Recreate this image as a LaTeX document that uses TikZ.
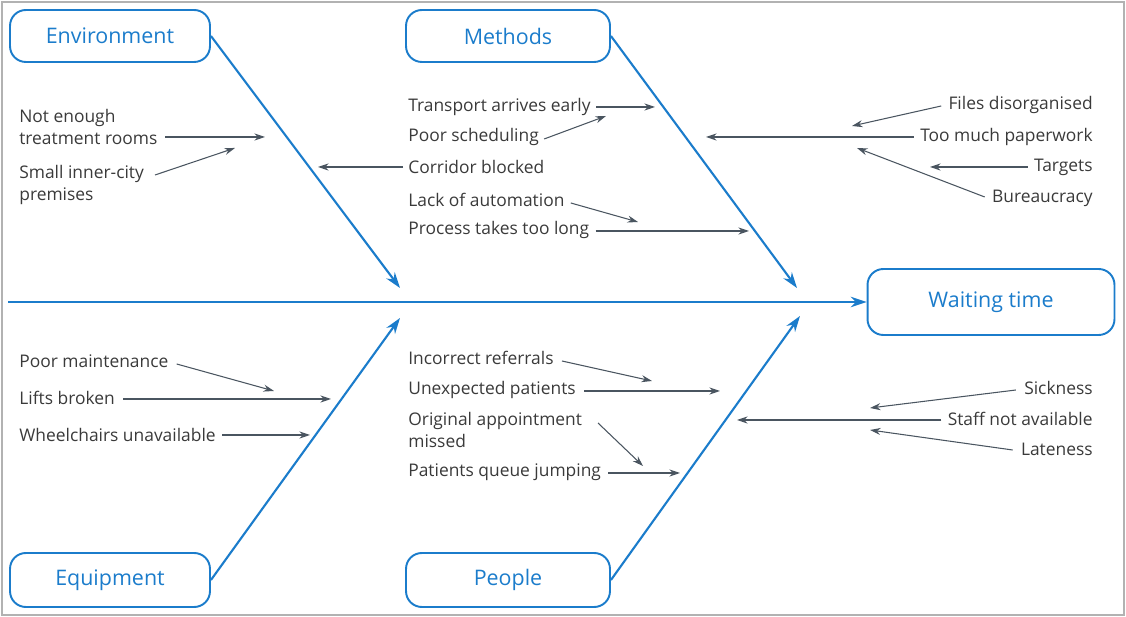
\documentclass[tikz,border=0pt]{standalone}
\usepackage{fontspec}
\setmainfont{Open Sans}
\usetikzlibrary{arrows.meta}
\definecolor{fb}{HTML}{1B7CCB}
\definecolor{ag}{HTML}{4A5560}
\definecolor{tx}{HTML}{3A3A3A}
\begin{document}
\begin{tikzpicture}[x=0.02cm,y=-0.02cm,
 cat/.style={draw=fb,line width=1.1pt,rounded corners=9pt,text=fb,font=\fontsize{12.2}{14}\selectfont,inner sep=0pt},
 bone/.style={draw=fb,line width=1.2pt,-{Stealth[length=9pt,width=6pt]}},
 sm/.style={draw=ag,line width=0.6pt,-{Stealth[length=6pt,width=4pt]}},
 lt/.style={text=tx,font=\fontsize{9.9}{12}\selectfont,anchor=west,align=left,inner sep=0pt},
 rt/.style={text=tx,font=\fontsize{9.9}{12}\selectfont,anchor=east,align=right,inner sep=0pt}]
\useasboundingbox (0,0) rectangle (1126,617);
\draw[gray!60,line width=0.8pt] (2,2) rectangle (1124,615);
% category boxes
\node[cat,minimum width=4cm,minimum height=1.04cm] (env) at (110,36) {Environment};
\node[cat,minimum width=4.08cm,minimum height=1.04cm] (met) at (508,36) {Methods};
\node[cat,minimum width=4cm,minimum height=1.08cm] (equ) at (110,580) {Equipment};
\node[cat,minimum width=4.08cm,minimum height=1.08cm] (peo) at (508,580) {People};
\node[cat,minimum width=4.94cm,minimum height=1.32cm] (wt) at (991,302) {Waiting time};
% spine
\coordinate (s0) at (8,302);
\draw[bone] (s0) -- (wt.west);
\coordinate (e1) at (400,288); \coordinate (m1) at (797,288);
\coordinate (q1) at (400,318); \coordinate (p1) at (800,316);
\draw[bone] (env.east) -- (e1);
\draw[bone] (met.east) -- (m1);
\draw[bone] (equ.east) -- (q1);
\draw[bone] (peo.east) -- (p1);
% environment
\node[lt] (t1) at (19,127) {Not enough\\treatment rooms};
\node[lt] (t2) at (19,185) {Small inner-city\\premises};
\node[lt] (t3) at (408,167) {Corridor blocked};
\coordinate (a1) at (265,137); \coordinate (a2) at (235,148); \coordinate (a3) at (318,167);
\draw[sm] (165,137) -- (a1);
\draw[sm] (155,175) -- (a2);
\draw[sm] (t3.west) ++(-5,0) -- (a3);
% methods
\node[lt] (t4) at (408,107) {Transport arrives early};
\node[lt] (t5) at (408,137) {Poor scheduling};
\node[lt] (t6) at (408,200) {Lack of automation};
\node[lt] (t7) at (408,230) {Process takes too long};
\coordinate (a4) at (655,107); \coordinate (a5) at (606,116);
\coordinate (a6) at (638,222); \coordinate (a7) at (749,231);
\draw[sm] (t4.east) ++(5,0) -- (a4);
\draw[sm] (t5.east) ++(5,2) -- (a5);
\draw[sm] (t6.east) ++(6,3) -- (a6);
\draw[sm] (t7.east) ++(6,1) -- (a7);
\node[rt] (t8) at (1093,105) {Files disorganised};
\node[rt] (t9) at (1093,137) {Too much paperwork};
\node[rt] (t10) at (1093,167) {Targets};
\node[rt] (t11) at (1093,198) {Bureaucracy};
\coordinate (a8) at (852,126); \coordinate (a9) at (706,137);
\coordinate (a10) at (930,167); \coordinate (a11) at (857,148);
\draw[sm] (t8.west) ++(-7,1) -- (a8);
\draw[sm] (t9.west) ++(-6,0) -- (a9);
\draw[sm] (t10.west) ++(-6,0) -- (a10);
\draw[sm] (t11.west) ++(-7,-1) -- (a11);
% equipment
\node[lt] (t12) at (19,361) {Poor maintenance};
\node[lt] (t13) at (19,398) {Lifts broken};
\node[lt] (t14) at (19,435) {Wheelchairs unavailable};
\coordinate (a12) at (274,391); \coordinate (a13) at (331,399); \coordinate (a14) at (310,435);
\draw[sm] (t12.east) ++(8,3) -- (a12);
\draw[sm] (t13.east) ++(8,1) -- (a13);
\draw[sm] (t14.east) ++(6,0) -- (a14);
% people
\node[lt] (t15) at (408,358) {Incorrect referrals};
\node[lt] (t16) at (408,390) {Unexpected patients};
\node[lt] (t17) at (408,430) {Original appointment\\missed};
\node[lt] (t18) at (408,472) {Patients queue jumping};
\coordinate (a15) at (652,381); \coordinate (a16) at (720,391);
\coordinate (a17) at (643,466); \coordinate (a18) at (680,473);
\draw[sm] (t15.east) ++(8,3) -- (a15);
\draw[sm] (t16.east) ++(8,1) -- (a16);
\draw[sm] (598,423) -- (a17);
\draw[sm] (t18.east) ++(7,1) -- (a18);
\node[rt] (t19) at (1093,388) {Sickness};
\node[rt] (t20) at (1093,419) {Staff not available};
\node[rt] (t21) at (1093,449) {Lateness};
\coordinate (a19) at (870,408); \coordinate (a20) at (737,420); \coordinate (a21) at (870,430);
\draw[sm] (t19.west) ++(-8,2) -- (a19);
\draw[sm] (t20.west) ++(-6,1) -- (a20);
\draw[sm] (t21.west) ++(-8,1) -- (a21);
\end{tikzpicture}
\end{document}
